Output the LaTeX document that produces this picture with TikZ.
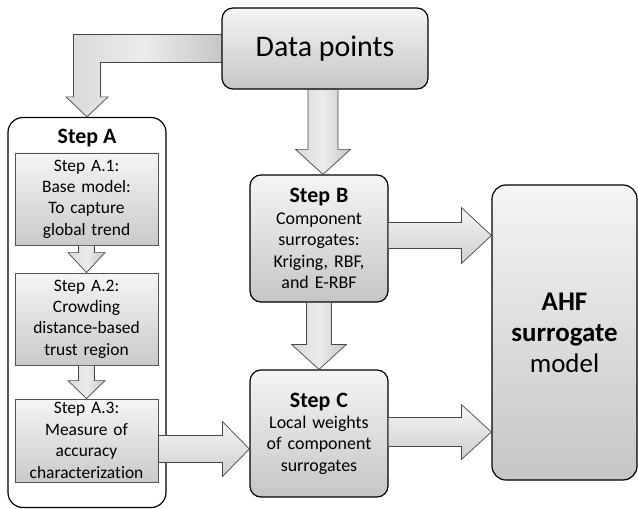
\documentclass[tikz,border=0pt]{standalone}
\usepackage{fontspec}
\setmainfont{Carlito}[Ligatures=NoCommon]
\usetikzlibrary{calc}
\newcommand{\ttl}{\fontsize{22}{26}\selectfont\bfseries}
\newcommand{\hblock}[5]{%
  \path[blockarr, top color=gray!8, bottom color=gray!38] let \p1=(#1), \p2=(#2) in
    (\x1,\y1+#3) -- (\x2-#5,\y1+#3) -- (\x2-#5,\y1+#4) -- (\x2,\y1)
    -- (\x2-#5,\y1-#4) -- (\x2-#5,\y1-#3) -- (\x1,\y1-#3) -- cycle;}
\newcommand{\vblock}[5]{%
  \path[blockarr] let \p1=(#1), \p2=(#2) in
    (\x1-#3,\y1) -- (\x1-#3,\y2+#5) -- (\x1-#4,\y2+#5) -- (\x1,\y2)
    -- (\x1+#4,\y2+#5) -- (\x1+#3,\y2+#5) -- (\x1+#3,\y1) -- cycle;}

\begin{document}
\begin{tikzpicture}[x=1bp, y=-1bp,
      mainbox/.style={draw=black, line width=1.2pt, rounded corners=11bp, top color=gray!8,
                      bottom color=gray!45, align=center, inner sep=0pt},
      outerbox/.style={draw=black, line width=1.2pt, rounded corners=15bp, fill=white},
      subbox/.style={draw=gray!65!black, line width=0.8pt, top color=gray!8, bottom color=gray!42,
                     minimum width=143bp, text width=135bp, align=center, inner sep=0pt,
                     font=\fontsize{17.5}{21.5}\selectfont},
      blockarr/.style={draw=gray!55!black, line width=0.7pt, left color=gray!30, right color=gray!45,
                       middle color=gray!15}]
    \useasboundingbox (0,0) rectangle (638,509);
    \node[mainbox, minimum width=206bp, minimum height=81bp, font=\fontsize{30}{34}\selectfont]
      (data) at (325,48.5) {Data points};
    \node[outerbox, minimum width=158bp, minimum height=390bp] (stepA) at (87,312.5) {};
    \node[font=\ttl] (stepAtitle) at (87,138) {Step A};
    \node[subbox, minimum height=92bp] (a1) at (86.5,199) {Step A.1:\\Base model:\\To capture\\global trend};
    \node[subbox, minimum height=92bp] (a2) at (86.5,319) {Step A.2:\\Crowding\\distance-based\\trust region};
    \node[subbox, minimum height=83bp] (a3) at (86.5,440.5) {Step A.3:\\Measure of\\accuracy\\characterization};
    \node[mainbox, minimum width=138bp, minimum height=127bp, text width=132bp,
          font=\fontsize{18}{21.5}\selectfont]
      (stepB) at (319,238.5) {{\ttl Step B}\\Component\\surrogates:\\Kriging, RBF,\\and E-RBF};
    \node[mainbox, minimum width=138bp, minimum height=127bp, text width=132bp,
          font=\fontsize{18}{21.5}\selectfont]
      (stepC) at (319,433.5) {{\ttl Step C}\\Local weights\\of component\\surrogates};
    \node[mainbox, minimum width=145bp, minimum height=295bp, rounded corners=14bp,
          font=\fontsize{27}{31}\selectfont]
      (ahf) at (564.5,332.5) {\textbf{AHF}\\\textbf{surrogate}\\model};
    \path[blockarr] let \p1=(data.west), \p2=(stepA.north) in
      (\x1,\y1+14bp) -- (\x2-13.5bp,\y1+14bp) -- (\x2-13.5bp,\y2+20bp) -- (\x2-21bp,\y2+20bp)
      -- (\x2,\y2) -- (\x2+21bp,\y2+20bp) -- (\x2+13.5bp,\y2+20bp) -- (\x2+13.5bp,\y1-14bp)
      -- (\x1,\y1-14bp) -- cycle;
    \vblock{[xshift=-2bp]data.south}{stepB.north}{15bp}{27.5bp}{25bp}
    \vblock{stepB.south}{stepC.north}{12.5bp}{27.5bp}{25bp}
    \vblock{a1.south}{a2.north}{8bp}{18.5bp}{20bp}
    \vblock{a2.south}{a3.north}{8bp}{18.5bp}{18bp}
    \hblock{[yshift=3bp]stepB.east}{ahf.west}{13bp}{28bp}{30bp}
    \hblock{[yshift=1.5bp]stepC.east}{ahf.west}{14.5bp}{27.5bp}{30bp}
    \hblock{[yshift=-8.5bp]a3.east}{stepC.west}{13.5bp}{27.5bp}{27bp}
  \end{tikzpicture}
\end{document}
